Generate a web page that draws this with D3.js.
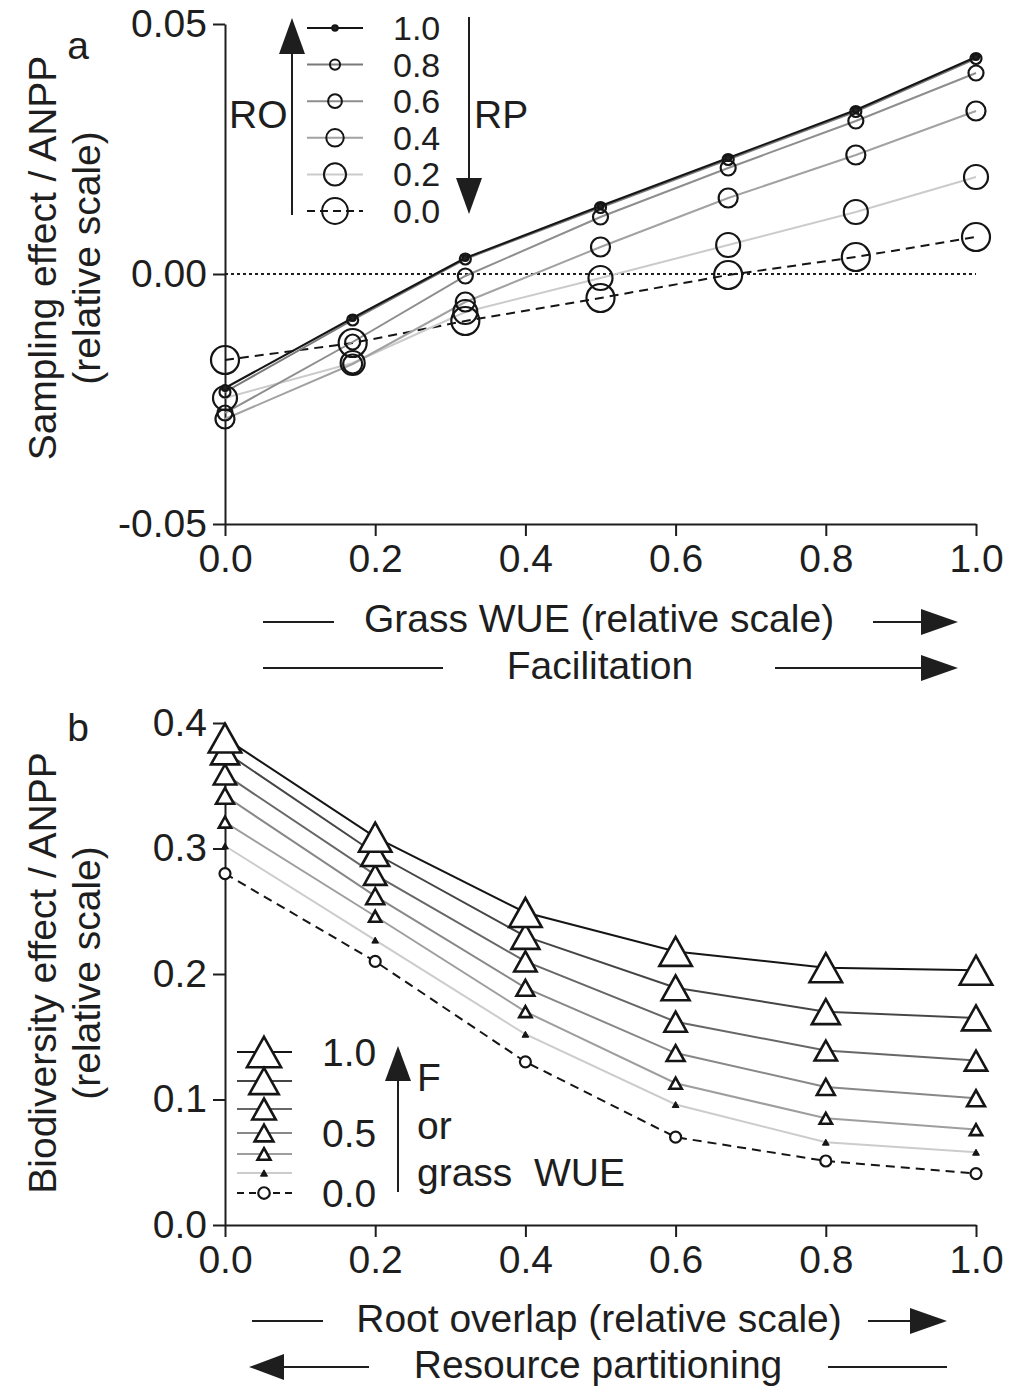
<!DOCTYPE html>
<html>
<head>
<meta charset="utf-8">
<script src="https://cdn.jsdelivr.net/npm/d3@7"></script>
<style>
  body { margin: 0; background: #fff; }
  svg { display: block; font-family: "Liberation Sans", Arial, sans-serif; }
  text { fill: #1e1e1e; }
</style>
</head>
<body>
<svg id="chart" width="1011" height="1389"></svg>
<script>
// panel a: sampling effect vs grass WUE, one series per root overlap level
const wueX = [0, 0.17, 0.32, 0.5, 0.67, 0.84, 1.0];
const roLevels = ['1.0', '0.8', '0.6', '0.4', '0.2', '0.0'];
const sampling10 = [-0.0228, -0.0088, 0.0032, 0.0136, 0.0232, 0.0328, 0.0434];
const sampling08 = [-0.0236, -0.0092, 0.0030, 0.0133, 0.0229, 0.0325, 0.0431];
const sampling06 = [-0.0278, -0.0136, -0.0004, 0.0114, 0.0212, 0.0306, 0.0402];
const sampling04 = [-0.0290, -0.0180, -0.0056, 0.0054, 0.0152, 0.0238, 0.0326];
const sampling02 = [-0.0248, -0.0178, -0.0076, -0.0008, 0.0058, 0.0124, 0.0194];
const sampling00 = [-0.0172, -0.0138, -0.0094, -0.0048, -0.0002, 0.0034, 0.0074];
const yTicksA = [-0.05, 0, 0.05];

// panel b: biodiversity effect vs root overlap, one series per F / grass WUE level
const overlapX = [0, 0.2, 0.4, 0.6, 0.8, 1.0];
const fLevels = ['1.0', '0.83', '0.67', '0.5', '0.33', '0.17', '0.0'];
const biodiv10 = [0.388, 0.309, 0.249, 0.218, 0.205, 0.203];
const biodiv083 = [0.377, 0.296, 0.230, 0.189, 0.170, 0.165];
const biodiv067 = [0.359, 0.279, 0.210, 0.162, 0.139, 0.131];
const biodiv05 = [0.342, 0.262, 0.189, 0.137, 0.110, 0.101];
const biodiv033 = [0.321, 0.246, 0.170, 0.113, 0.085, 0.076];
const biodiv017 = [0.302, 0.227, 0.152, 0.096, 0.066, 0.058];
const biodiv00 = [0.280, 0.210, 0.130, 0.070, 0.051, 0.041];
const yTicksB = [0, 0.1, 0.2, 0.3, 0.4];
const xTicks = [0, 0.2, 0.4, 0.6, 0.8, 1.0];

const svg = d3.select('#chart');
const ink = '#1e1e1e';
const fontSize = 39;

const seriesA = [
  { level: roLevels[0], values: sampling10, color: '#151515', r: 3, filled: true },
  { level: roLevels[1], values: sampling08, color: '#7a7a7a', r: 5.5 },
  { level: roLevels[2], values: sampling06, color: '#8e8e8e', r: 7.5 },
  { level: roLevels[3], values: sampling04, color: '#a2a2a2', r: 9.5 },
  { level: roLevels[4], values: sampling02, color: '#cbcbcb', r: 12 },
  { level: roLevels[5], values: sampling00, color: '#151515', r: 14, dashed: true }
];

const seriesB = [
  { level: fLevels[0], values: biodiv10, color: '#151515', h: 29, shape: 'tri' },
  { level: fLevels[1], values: biodiv083, color: '#454545', h: 25, shape: 'tri' },
  { level: fLevels[2], values: biodiv067, color: '#676767', h: 20, shape: 'tri' },
  { level: fLevels[3], values: biodiv05, color: '#888888', h: 16, shape: 'tri' },
  { level: fLevels[4], values: biodiv033, color: '#9e9e9e', h: 11, shape: 'tri' },
  { level: fLevels[5], values: biodiv017, color: '#cccccc', h: 6, shape: 'tri', filled: true },
  { level: fLevels[6], values: biodiv00, color: '#151515', h: 11, shape: 'circle', dashed: true }
];

// triangle centred on its bounding box, size = height in px
const triangle = {
  draw(ctx, h) {
    const w = h * 1.12;
    ctx.moveTo(0, -h / 2);
    ctx.lineTo(w / 2, h / 2);
    ctx.lineTo(-w / 2, h / 2);
    ctx.closePath();
  }
};

const styleAxis = g => {
  g.selectAll('.domain').attr('stroke', ink).attr('stroke-width', 2);
  g.selectAll('.tick line').attr('stroke', ink).attr('stroke-width', 2);
  g.selectAll('.tick text')
    .attr('font-size', fontSize)
    .attr('font-family', '"Liberation Sans", Arial, sans-serif')
    .attr('fill', ink);
};

const arrowHead = (g, x, y, dir, len, half) => {
  let pts;
  if (dir === 'right') pts = [[x, y], [x - len, y - half], [x - len, y + half]];
  if (dir === 'left') pts = [[x, y], [x + len, y - half], [x + len, y + half]];
  if (dir === 'up') pts = [[x, y], [x - half, y + len], [x + half, y + len]];
  if (dir === 'down') pts = [[x, y], [x - half, y - len], [x + half, y - len]];
  g.append('path').attr('d', 'M' + pts.join('L') + 'Z').attr('fill', ink);
};

const hLine = (g, x1, x2, y) => {
  g.append('line').attr('x1', x1).attr('x2', x2).attr('y1', y).attr('y2', y)
    .attr('stroke', ink).attr('stroke-width', 2);
};

const vLine = (g, x, y1, y2) => {
  g.append('line').attr('x1', x).attr('x2', x).attr('y1', y1).attr('y2', y2)
    .attr('stroke', ink).attr('stroke-width', 2);
};

const label = (g, txt, x, y, anchor = 'middle', size = fontSize) => g.append('text')
  .attr('x', x).attr('y', y)
  .attr('text-anchor', anchor)
  .attr('dominant-baseline', 'central')
  .attr('font-size', size)
  .style('white-space', 'pre')
  .text(txt);

const yTitle = (g, lines, cy) => {
  lines.forEach((t, i) => {
    g.append('text')
      .attr('transform', `translate(${42 + i * 44},${cy}) rotate(-90)`)
      .attr('text-anchor', 'middle')
      .attr('dominant-baseline', 'central')
      .attr('font-size', fontSize)
      .text(t);
  });
};

// ---------- panel a ----------
const xA = d3.scaleLinear().domain([0, 1]).range([225, 976]);
const yA = d3.scaleLinear().domain([-0.05, 0.05]).range([524, 24]);
const panelA = svg.append('g').attr('class', 'panel-a');

panelA.append('g')
  .attr('transform', `translate(0,${yA(-0.05)})`)
  .call(d3.axisBottom(xA).tickValues(xTicks).tickFormat(d => d.toFixed(1)).tickSize(12).tickSizeOuter(0).tickPadding(8))
  .call(styleAxis);

panelA.append('g')
  .attr('transform', `translate(${xA(0)},0)`)
  .call(d3.axisLeft(yA).tickValues(yTicksA).tickFormat(d => d.toFixed(2)).tickSize(12).tickSizeOuter(0).tickPadding(6))
  .call(styleAxis);

panelA.append('line')
  .attr('x1', xA(0)).attr('x2', xA(1))
  .attr('y1', yA(0)).attr('y2', yA(0))
  .attr('stroke', ink).attr('stroke-width', 2)
  .attr('stroke-dasharray', '3,3');

const lineA = d3.line().x((d, i) => xA(wueX[i])).y(d => yA(d));

seriesA.slice().reverse().forEach(s => {
  panelA.append('path')
    .attr('d', lineA(s.values))
    .attr('fill', 'none')
    .attr('stroke', s.color)
    .attr('stroke-width', 2)
    .attr('stroke-dasharray', s.dashed ? '9,6' : null);
});

seriesA.slice().reverse().forEach(s => {
  panelA.selectAll(null)
    .data(s.values)
    .enter()
    .append('circle')
    .attr('cx', (d, i) => xA(wueX[i]))
    .attr('cy', d => yA(d))
    .attr('r', s.r)
    .attr('fill', s.filled ? '#222' : 'none')
    .attr('stroke', '#151515')
    .attr('stroke-width', 2.2);
});

label(panelA, 'a', 78, 45);
yTitle(panelA, ['Sampling effect / ANPP', '(relative scale)'], 258);

// legend a
const legA = panelA.append('g').attr('class', 'legend-a');
seriesA.forEach((s, i) => {
  const y = 28 + i * 36.6;
  legA.append('line')
    .attr('x1', 307).attr('x2', 363).attr('y1', y).attr('y2', y)
    .attr('stroke', s.color).attr('stroke-width', 2)
    .attr('stroke-dasharray', s.dashed ? '8,5' : null);
  legA.append('circle')
    .attr('cx', 335).attr('cy', y).attr('r', s.r * 0.92)
    .attr('fill', s.filled ? '#222' : 'none')
    .attr('stroke', '#151515').attr('stroke-width', 2);
  label(legA, s.level, 393, y, 'start', 34);
});
vLine(legA, 292, 215, 50);
arrowHead(legA, 292, 18, 'up', 36, 13);
label(legA, 'RO', 229, 114, 'start');
vLine(legA, 469, 17, 182);
arrowHead(legA, 469, 214, 'down', 36, 13);
label(legA, 'RP', 474, 114, 'start');

// x annotations a
label(panelA, 'Grass WUE (relative scale)', 599, 618);
hLine(panelA, 263, 334, 622);
hLine(panelA, 873, 922, 622);
arrowHead(panelA, 958, 622, 'right', 37, 13);
label(panelA, 'Facilitation', 600, 665);
hLine(panelA, 263, 443, 668);
hLine(panelA, 775, 922, 668);
arrowHead(panelA, 958, 668, 'right', 37, 13);

// ---------- panel b ----------
const xB = d3.scaleLinear().domain([0, 1]).range([225, 976]);
const yB = d3.scaleLinear().domain([0, 0.4]).range([1225, 723]);
const panelB = svg.append('g').attr('class', 'panel-b');

panelB.append('g')
  .attr('transform', `translate(0,${yB(0)})`)
  .call(d3.axisBottom(xB).tickValues(xTicks).tickFormat(d => d.toFixed(1)).tickSize(12).tickSizeOuter(0).tickPadding(8))
  .call(styleAxis);

panelB.append('g')
  .attr('transform', `translate(${xB(0)},0)`)
  .call(d3.axisLeft(yB).tickValues(yTicksB).tickFormat(d => d.toFixed(1)).tickSize(12).tickSizeOuter(0).tickPadding(6))
  .call(styleAxis);

const lineB = d3.line().x((d, i) => xB(overlapX[i])).y(d => yB(d));

seriesB.slice().reverse().forEach(s => {
  panelB.append('path')
    .attr('d', lineB(s.values))
    .attr('fill', 'none')
    .attr('stroke', s.color)
    .attr('stroke-width', 2)
    .attr('stroke-dasharray', s.dashed ? '9,6' : null);
});

const drawMarker = (g, s, x, y, scale = 1) => {
  if (s.shape === 'circle') {
    g.append('circle').attr('cx', x).attr('cy', y).attr('r', s.h / 2 * scale)
      .attr('fill', '#fff').attr('stroke', '#151515').attr('stroke-width', 2.2);
  } else {
    g.append('path')
      .attr('transform', `translate(${x},${y})`)
      .attr('d', d3.symbol().type(triangle).size(s.h * scale)())
      .attr('fill', s.filled ? '#151515' : '#fff')
      .attr('stroke', '#151515')
      .attr('stroke-width', s.filled ? 1 : 2.6)
      .attr('stroke-linejoin', 'miter');
  }
};

seriesB.slice().reverse().forEach(s => {
  s.values.forEach((v, i) => drawMarker(panelB, s, xB(overlapX[i]), yB(v)));
});

label(panelB, 'b', 78, 727);
yTitle(panelB, ['Biodiversity effect / ANPP', '(relative scale)'], 973);

// legend b
const legB = panelB.append('g').attr('class', 'legend-b');
const legBOffsets = [0, 29, 57, 81, 102, 121, 141];
seriesB.forEach((s, i) => {
  const y = 1052 + legBOffsets[i];
  legB.append('line')
    .attr('x1', 237).attr('x2', 292).attr('y1', y).attr('y2', y)
    .attr('stroke', s.color).attr('stroke-width', 2)
    .attr('stroke-dasharray', s.dashed ? '7,5' : null);
  drawMarker(legB, s, 264, y, 1.05);
});
label(legB, fLevels[0], 322, 1052, 'start');
label(legB, fLevels[3], 322, 1133, 'start');
label(legB, fLevels[6], 322, 1193, 'start');
vLine(legB, 398, 1192, 1078);
arrowHead(legB, 398, 1046, 'up', 35, 13);
label(legB, 'F', 417, 1077, 'start');
label(legB, 'or', 417, 1125, 'start');
label(legB, 'grass  WUE', 417, 1172, 'start');

// x annotations b
label(panelB, 'Root overlap (relative scale)', 599, 1318);
hLine(panelB, 252, 323, 1321);
hLine(panelB, 868, 912, 1321);
arrowHead(panelB, 947, 1321, 'right', 37, 13);
label(panelB, 'Resource partitioning', 598, 1364);
arrowHead(panelB, 249, 1367, 'left', 35, 13);
hLine(panelB, 282, 369, 1367);
hLine(panelB, 828, 947, 1367);
</script>
</body>
</html>
